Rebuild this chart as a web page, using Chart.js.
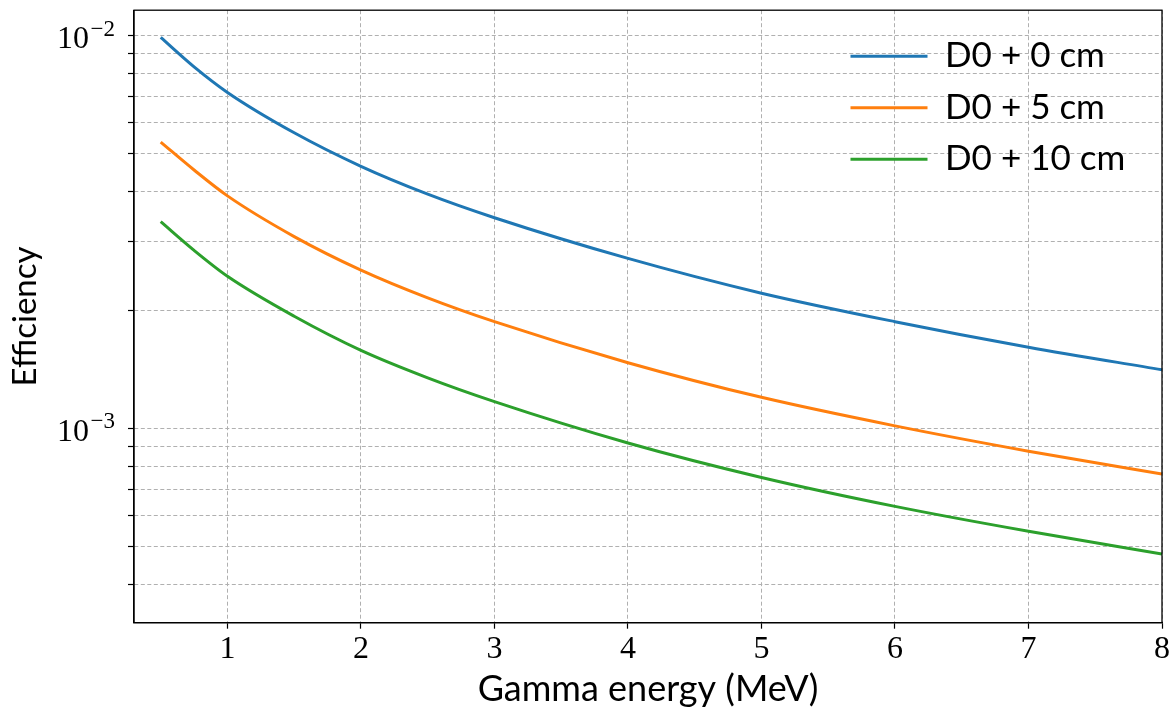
<!DOCTYPE html>
<html>
<head>
<meta charset="utf-8">
<script src="https://cdn.jsdelivr.net/npm/chart.js@4.4.1/dist/chart.umd.min.js"></script>
<style>
  html, body { margin: 0; padding: 0; background: #fff; }
  #caixa { width: 1176px; height: 712px; }
</style>
</head>
<body>
<div id="caixa"><canvas id="graficoEficiencia"></canvas></div>
<script>
// valores (energia em MeV, eficiência)
const energias = [0.5, 0.75, 1, 1.5, 2, 2.5, 3, 4, 5, 6, 7, 8];
const efD0_0 = [9.9e-3, 8.33e-3, 7.17e-3, 5.66e-3, 4.65e-3, 3.95e-3, 3.44e-3, 2.71e-3, 2.21e-3, 1.87e-3, 1.61e-3, 1.41e-3];
const efD0_5 = [5.36e-3, 4.55e-3, 3.91e-3, 3.08e-3, 2.53e-3, 2.15e-3, 1.87e-3, 1.47e-3, 1.20e-3, 1.015e-3, 8.75e-4, 7.65e-4];
const efD0_10 = [3.36e-3, 2.84e-3, 2.44e-3, 1.93e-3, 1.58e-3, 1.345e-3, 1.17e-3, 9.18e-4, 7.5e-4, 6.33e-4, 5.47e-4, 4.79e-4];
const rotulos = ['D0 + 0 cm', 'D0 + 5 cm', 'D0 + 10 cm'];
const cores = ['#1f77b4', '#ff7f0e', '#2ca02c'];

const limitesX = [0.3, 8];
const limitesY = [3.2e-4, 1.1616e-2];
const ticksX = [1, 2, 3, 4, 5, 6, 7, 8];
const ticksY = [4e-4, 5e-4, 6e-4, 7e-4, 8e-4, 9e-4, 1e-3, 2e-3, 3e-3, 4e-3, 5e-3, 6e-3, 7e-3, 8e-3, 9e-3, 1e-2];
const ticksYMaiores = [1e-3, 1e-2];

const serif = '"Liberation Serif", "DejaVu Serif", serif';
const sans = 'Lato, "Open Sans", sans-serif';

function pontos(ys) {
    return energias.map((e, i) => ({ x: e, y: ys[i] }));
}

// moldura completa + rótulos 10^n no eixo y + legenda dentro da área
const moldura = {
    id: 'moldura',
    beforeDraw(chart) {
        const leg = chart.legend;
        const a = chart.chartArea;
        if (!leg) return;
        leg.left = a.right - 328;
        leg.top = a.top + 12;
    },
    afterDraw(chart) {
        const { ctx, chartArea: a, scales } = chart;
        ctx.save();
        ctx.strokeStyle = '#000';
        ctx.lineWidth = 1.3;
        ctx.strokeRect(a.left, a.top, a.right - a.left, a.bottom - a.top);

        ctx.fillStyle = '#000';
        ctx.textBaseline = 'alphabetic';
        ticksYMaiores.forEach(v => {
            const y = scales.y.getPixelForValue(v);
            const exp = '\u2212' + Math.round(-Math.log10(v));
            const xm = a.left - 45; // fim do "10"
            ctx.font = '32px ' + serif;
            ctx.textAlign = 'right';
            ctx.fillText('10', xm, y + 12.5);
            ctx.font = '23px ' + serif;
            ctx.textAlign = 'left';
            ctx.fillText(exp, xm + 1.5, y);
        });
        ctx.restore();
    }
};

function criarGrafico() {
    const canvas = document.getElementById('graficoEficiencia');
    const ctx = canvas.getContext('2d');
    const series = [efD0_0, efD0_5, efD0_10];

    new Chart(ctx, {
        type: 'line',
        data: {
            datasets: series.map((s, i) => ({
                label: rotulos[i],
                data: pontos(s),
                borderColor: cores[i],
                backgroundColor: cores[i],
                borderWidth: 3,
                pointRadius: 0,
                cubicInterpolationMode: 'monotone',
                fill: false
            }))
        },
        options: {
            responsive: true,
            maintainAspectRatio: false,
            animation: false,
            layout: { padding: { left: 0, top: 8.7, right: 14, bottom: 0 } },
            plugins: {
                tooltip: { enabled: false },
                legend: {
                    position: 'chartArea',
                    align: 'start',
                    labels: {
                        font: { family: sans, size: 35 },
                        color: '#000',
                        boxWidth: 77,
                        boxHeight: 3,
                        padding: 16.5,
                        generateLabels(chart) {
                            const itens = Chart.defaults.plugins.legend.labels.generateLabels(chart);
                            itens.forEach(it => { it.lineWidth = 0; it.fillStyle = it.strokeStyle; });
                            return itens;
                        }
                    }
                }
            },
            scales: {
                x: {
                    type: 'linear',
                    min: limitesX[0],
                    max: limitesX[1],
                    afterBuildTicks: s => {
                        s.ticks = ticksX.map(v => ({ value: v }));
                        s.min = limitesX[0];
                        s.max = limitesX[1];
                    },
                    afterFit: s => { s.height = 89.3; },
                    grid: { color: '#b0b0b0', lineWidth: 1, tickColor: '#000', tickLength: 6, tickWidth: 1.2 },
                    border: { dash: [4, 2.5], color: '#000', width: 1.3 },
                    ticks: {
                        font: { family: serif, size: 32 },
                        color: '#000',
                        padding: 2,
                        maxRotation: 0,
                        autoSkip: false
                    },
                    title: {
                        display: true,
                        text: 'Gamma energy (MeV)',
                        font: { family: sans, size: 36 },
                        color: '#000',
                        padding: { top: 0, bottom: 1 }
                    }
                },
                y: {
                    type: 'logarithmic',
                    min: limitesY[0],
                    max: limitesY[1],
                    afterBuildTicks: s => {
                        s.ticks = ticksY.map(v => ({ value: v }));
                        s.min = limitesY[0];
                        s.max = limitesY[1];
                    },
                    afterFit: s => { s.width = 134; },
                    grid: { color: '#b0b0b0', lineWidth: 1, tickColor: '#000', tickLength: 6, tickWidth: 1.2 },
                    border: { dash: [4, 2.5], color: '#000', width: 1.3 },
                    ticks: {
                        callback: () => '',
                        autoSkip: false
                    },
                    title: {
                        display: true,
                        text: 'Efficiency',
                        font: { family: sans, size: 33 },
                        color: '#000',
                        padding: { top: 6, bottom: 0 }
                    }
                }
            }
        },
        plugins: [moldura]
    });
}

window.addEventListener('load', criarGrafico);
</script>
</body>
</html>
